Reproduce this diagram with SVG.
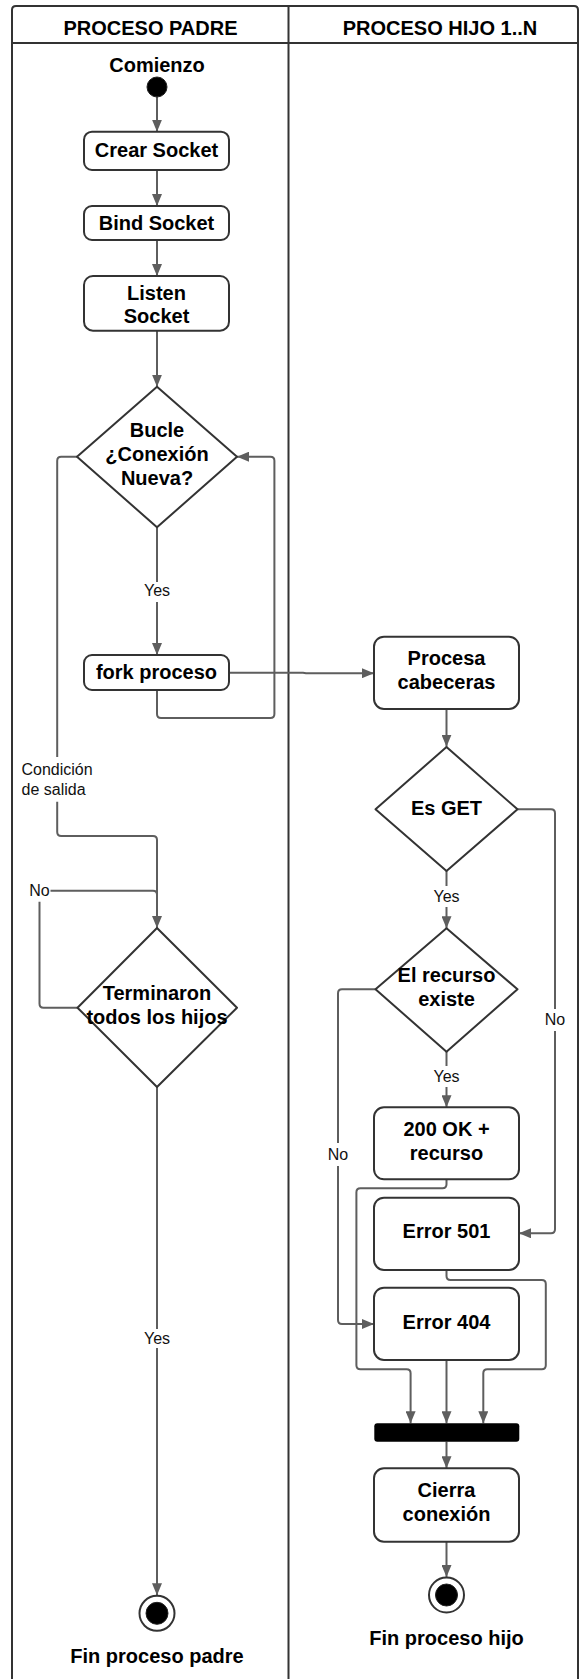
<svg xmlns="http://www.w3.org/2000/svg" width="579" height="1679" viewBox="0 0 579 1679">
  <style>
    .frame { fill: none; stroke: #333; stroke-width: 2; }
    .node { fill: #fff; stroke: #333; stroke-width: 2; stroke-linejoin: round; }
    .solid { fill: #000; stroke: #222; stroke-width: 1; }
    .t { font-family: "Liberation Sans", Arial, sans-serif; font-weight: bold; font-size: 20px; fill: #000; text-anchor: middle; }
    .lbl { font-family: "Liberation Sans", Arial, sans-serif; font-size: 16px; fill: #111; text-anchor: middle; }
    .lbl-l { text-anchor: start; }
    .edge { fill: none; stroke: #5e5e5e; stroke-width: 2; stroke-linejoin: round; }
  </style>
  <defs>
    <marker id="ah" viewBox="0 0 12 10" refX="12" refY="5" markerWidth="12" markerHeight="10" markerUnits="userSpaceOnUse" orient="auto">
      <path d="M0,0 L12,5 L0,10 z" fill="#5e5e5e"/>
    </marker>
  </defs>
  <rect width="579" height="1679" fill="#fff"/>

  <!-- swimlane frame -->
  <g id="lanes">
    <path class="frame" d="M12,1690 V10 Q12,6 16,6 H574 Q578,6 578,10 V1690"/>
    <path class="frame" d="M12,43 H578 M288.5,6 V1690"/>
    <text class="t" x="150.5" y="35">PROCESO PADRE</text>
    <text class="t" x="440" y="35">PROCESO HIJO 1..N</text>
  </g>

  <!-- connectors -->
  <g id="connectors">
    <path class="edge" d="M157,97 V131.7" marker-end="url(#ah)"/>
    <path class="edge" d="M157,170 V206" marker-end="url(#ah)"/>
    <path class="edge" d="M157,240 V276" marker-end="url(#ah)"/>
    <path class="edge" d="M157,330.7 V386.7" marker-end="url(#ah)"/>
    <path class="edge" d="M157,527.3 V582"/>
    <path class="edge" d="M157,602 V655" marker-end="url(#ah)"/>
    <text class="lbl" x="157" y="596">Yes</text>
    <path class="edge" d="M229,672.7 H303 L306,673.2 H374" marker-end="url(#ah)"/>
    <path class="edge" d="M157,690 V714 Q157,718 161,718 H270.4 Q274.4,718 274.4,714 V460.7 Q274.4,456.7 270.4,456.7 H237" marker-end="url(#ah)"/>
    <path class="edge" d="M77,456.7 H61.2 Q57.2,456.7 57.2,460.7 V757"/>
    <path class="edge" d="M57.2,801.7 V832 Q57.2,836 61.2,836 H153 Q157,836 157,840 V928" marker-end="url(#ah)"/>
    <text class="lbl lbl-l" x="21.5" y="775">Condición</text>
    <text class="lbl lbl-l" x="21.5" y="794.5">de salida</text>
    <path class="edge" d="M77.5,1007.7 H43.5 Q39.5,1007.7 39.5,1003.7 V901.7"/>
    <path class="edge" d="M50.5,890.7 H153 Q157,890.7 157,894.7 V928"/>
    <text class="lbl" x="39.5" y="895.5">No</text>
    <path class="edge" d="M157,1087 V1329"/>
    <path class="edge" d="M157,1348 V1595.3" marker-end="url(#ah)"/>
    <text class="lbl" x="157" y="1343.5">Yes</text>

    <path class="edge" d="M446.5,709 V746.7" marker-end="url(#ah)"/>
    <path class="edge" d="M446.5,871 V886"/>
    <path class="edge" d="M446.5,907 V928.3" marker-end="url(#ah)"/>
    <text class="lbl" x="446.5" y="902">Yes</text>
    <path class="edge" d="M517.5,809.3 H551 Q555,809.3 555,813.3 V1009"/>
    <path class="edge" d="M555,1031 V1229.3 Q555,1233.3 551,1233.3 H519" marker-end="url(#ah)"/>
    <text class="lbl" x="555" y="1025">No</text>
    <path class="edge" d="M446.5,1051.7 V1066"/>
    <path class="edge" d="M446.5,1087 V1107.3" marker-end="url(#ah)"/>
    <text class="lbl" x="446.5" y="1082">Yes</text>
    <path class="edge" d="M375.5,989.3 H342 Q338,989.3 338,993.3 V1143"/>
    <path class="edge" d="M338,1166 V1320 Q338,1324 342,1324 H374" marker-end="url(#ah)"/>
    <text class="lbl" x="338" y="1159.5">No</text>
    <path class="edge" d="M446.5,1179.3 V1184.3 Q446.5,1188.3 442.5,1188.3 H360.4 Q356.4,1188.3 356.4,1192.3 V1365.3 Q356.4,1369.3 360.4,1369.3 H406.6 Q410.6,1369.3 410.6,1373.3 V1423.3" marker-end="url(#ah)"/>
    <path class="edge" d="M446.5,1270 V1276 Q446.5,1280 450.5,1280 H541.8 Q545.8,1280 545.8,1284 V1365.3 Q545.8,1369.3 541.8,1369.3 H487.3 Q483.3,1369.3 483.3,1373.3 V1423.3" marker-end="url(#ah)"/>
    <path class="edge" d="M446.5,1360 V1423.3" marker-end="url(#ah)"/>
    <path class="edge" d="M446.5,1441.7 V1468.3" marker-end="url(#ah)"/>
    <path class="edge" d="M446.5,1541.7 V1577" marker-end="url(#ah)"/>
  </g>

  <!-- parent process -->
  <g id="start">
    <text class="t" x="157" y="72">Comienzo</text>
    <circle class="solid" cx="157" cy="87" r="10"/>
  </g>
  <g id="crear-socket">
    <rect class="node" x="84" y="131.7" width="145" height="38.3" rx="8"/>
    <text class="t" x="156.5" y="157">Crear Socket</text>
  </g>
  <g id="bind-socket">
    <rect class="node" x="84" y="206" width="145" height="34" rx="8"/>
    <text class="t" x="156.5" y="230">Bind Socket</text>
  </g>
  <g id="listen-socket">
    <rect class="node" x="84" y="276" width="145" height="54.7" rx="9"/>
    <text class="t" x="156.5" y="299.5">Listen</text>
    <text class="t" x="156.5" y="323">Socket</text>
  </g>
  <g id="bucle">
    <polygon class="node" points="157,386.7 237,456.7 157,527.3 77,456.7"/>
    <text class="t" x="157" y="437">Bucle</text>
    <text class="t" x="157" y="461">¿Conexión</text>
    <text class="t" x="157" y="485">Nueva?</text>
  </g>
  <g id="fork-proceso">
    <rect class="node" x="84" y="655" width="145" height="35" rx="8"/>
    <text class="t" x="156.5" y="679">fork proceso</text>
  </g>
  <g id="terminaron">
    <polygon class="node" points="157,928 237,1007.7 157,1087 77.5,1007.7"/>
    <text class="t" x="157" y="1000">Terminaron</text>
    <text class="t" x="157" y="1023.5">todos los hijos</text>
  </g>
  <g id="fin-padre">
    <circle class="node" cx="157" cy="1613.3" r="17.5"/>
    <circle class="solid" cx="157" cy="1613.3" r="11"/>
    <text class="t" x="157" y="1663">Fin proceso padre</text>
  </g>

  <!-- child process -->
  <g id="procesa-cabeceras">
    <rect class="node" x="374" y="636.7" width="145" height="72.3" rx="10"/>
    <text class="t" x="446.5" y="665">Procesa</text>
    <text class="t" x="446.5" y="689">cabeceras</text>
  </g>
  <g id="es-get">
    <polygon class="node" points="446.5,747 517.5,809.3 446.5,871 375.5,809.3"/>
    <text class="t" x="446.5" y="815">Es GET</text>
  </g>
  <g id="recurso-existe">
    <polygon class="node" points="446.5,928.3 517.5,989.3 446.5,1051.7 375.5,989.3"/>
    <text class="t" x="446.5" y="982">El recurso</text>
    <text class="t" x="446.5" y="1005.5">existe</text>
  </g>
  <g id="ok-200">
    <rect class="node" x="374" y="1107.3" width="145" height="72" rx="10"/>
    <text class="t" x="446.5" y="1135.5">200 OK +</text>
    <text class="t" x="446.5" y="1159.5">recurso</text>
  </g>
  <g id="error-501">
    <rect class="node" x="374" y="1197.7" width="145" height="72.3" rx="10"/>
    <text class="t" x="446.5" y="1238">Error 501</text>
  </g>
  <g id="error-404">
    <rect class="node" x="374" y="1287.7" width="145" height="72.3" rx="10"/>
    <text class="t" x="446.5" y="1328.5">Error 404</text>
  </g>
  <g id="join">
    <rect x="374.3" y="1423.3" width="145" height="18.4" rx="3" fill="#000"/>
  </g>
  <g id="cierra-conexion">
    <rect class="node" x="374" y="1468.3" width="145" height="73.4" rx="10"/>
    <text class="t" x="446.5" y="1497">Cierra</text>
    <text class="t" x="446.5" y="1521">conexión</text>
  </g>
  <g id="fin-hijo">
    <circle class="node" cx="446.5" cy="1595" r="17.5"/>
    <circle class="solid" cx="446.5" cy="1595" r="11"/>
    <text class="t" x="446.5" y="1645">Fin proceso hijo</text>
  </g>
</svg>
